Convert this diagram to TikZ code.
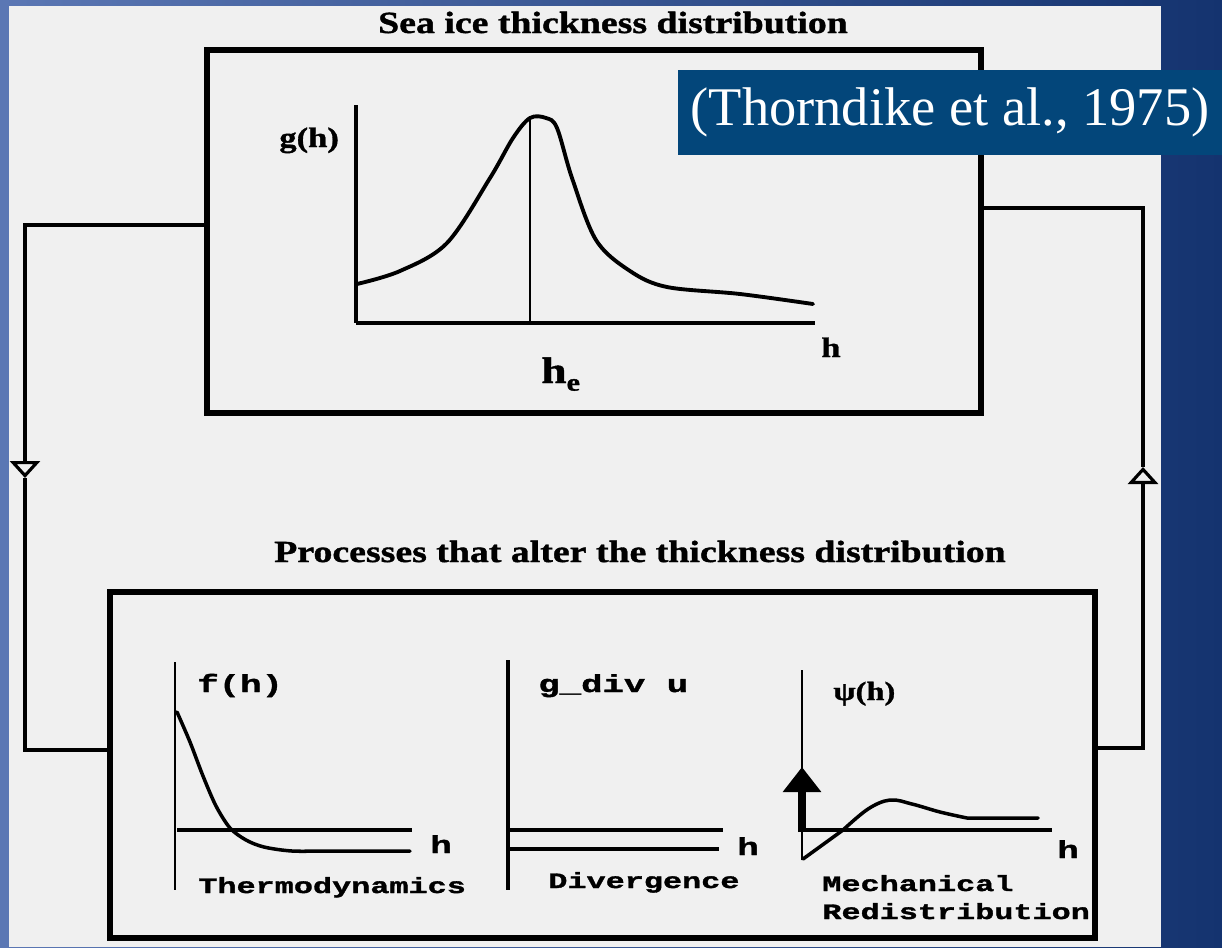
\documentclass[tikz,border=0pt]{standalone}
\usepackage{fontspec}
\setmainfont{Liberation Serif}
\newfontfamily\headfont[FakeStretch=1.23, FakeBold=1.2]{Liberation Serif}
\newfontfamily\typefont[FakeStretch=1.45, FakeBold=1.5]{Liberation Mono}
\usetikzlibrary{arrows.meta}
\definecolor{slideblue}{HTML}{03467A}
\definecolor{bgleft}{HTML}{5B77B4}
\definecolor{bgright}{HTML}{14336F}
\definecolor{paper}{HTML}{F0F0F0}
\tikzset{
  framebox/.style ={draw=black, line width=3pt, inner sep=0pt, outer sep=0pt},
  feed/.style     ={draw=black, line width=2.5pt},
  opentip/.style  ={-{Triangle[open, width=0.6cm, length=0.34cm, line width=1.8pt]}},
  heading/.style  ={font=\headfont\bfseries\fontsize{17.5}{20}\selectfont, anchor=base, inner sep=0pt},
  axlbl/.style    ={font=\headfont\bfseries\fontsize{16}{18}\selectfont, anchor=base west, inner sep=0pt},
  tlbl/.style     ={font=\typefont\bfseries\fontsize{12.5}{14}\selectfont, anchor=base west, inner sep=0pt},
  tlblbig/.style  ={font=\typefont\bfseries\fontsize{14}{16}\selectfont, anchor=base west, inner sep=0pt},
  cite/.style     ={fill=slideblue, text=white, inner sep=0pt, minimum width=10.88cm,
                    minimum height=1.7cm, font=\fontsize{31}{34}\selectfont},
  curve/.style    ={line width=2.2pt, line join=round, line cap=round},
}

\begin{document}
\begin{tikzpicture}[x=0.02cm, y=-0.02cm]
  \useasboundingbox (0,0) rectangle (1222,947);
  % slide background and scanned page
  \shade[left color=bgleft, right color=bgright] (0,0) rectangle (1222,947);
  \fill[paper] (9,6) rectangle (1161,947);

  % the two frames
  \node[framebox, minimum width=15.48cm, minimum height=7.26cm] (dist) at (594,231.5) {};
  \node[framebox, minimum width=19.7cm, minimum height=6.92cm] (proc) at (602.5,765) {};
  \node[heading] (disttitle) at (613,33) {Sea ice thickness distribution};
  \node[heading] (proctitle) at (640,562) {Processes that alter the thickness distribution};

  % feedback loop
  \coordinate (ltop) at (25,225);
  \coordinate (lmark) at (25,478);
  \coordinate (lbot) at (25,750);
  \coordinate (rbot) at (1143,748);
  \coordinate (rmark) at (1143,467);
  \coordinate (rtop) at (1143,208);
  \draw[feed, opentip] (dist.west |- ltop) -- (ltop) -- (lmark);
  \draw[feed] (lmark) -- (lbot) -- (lbot -| proc.west);
  \draw[feed, opentip] (proc.east |- rbot) -- (rbot) -- (rmark);
  \draw[feed] (rmark) -- (rtop) -- (rtop -| dist.east);

  % g(h)
  \draw[line width=2.4pt] (356,105) -- (356,323);
  \draw[line width=2.6pt] (356,323) -- (815,323);
  \draw[line width=1.3pt] (530,119) -- (530,323);
  \draw[curve] plot[smooth, tension=0.55] coordinates {(357,284) (400,271) (447,243) (490,178)
    (513,138) (530,118) (546,118) (557,128) (572,178) (596,240) (630,271) (667,287) (740,294) (813,304)};
  \node[axlbl] (glbl) at (279,147) {g(h)};
  \node[axlbl] (hlbl) at (821,357) {h};
  \node[axlbl, font=\headfont\bfseries\fontsize{21}{24}\selectfont] (helbl) at (541,383)
    {h\raisebox{-0.45ex}{\fontsize{14}{16}\selectfont e}};

  % thermodynamics
  \draw[line width=1.4pt] (175,662) -- (175,890);
  \draw[line width=2.4pt] (177,830) -- (412,830);
  \draw[curve, line width=2pt] plot[smooth, tension=0.5] coordinates {(177,712) (190,742) (203,776)
    (216,806) (230,828) (246,840) (264,847) (292,851) (330,851) (410,851)};
  \node[tlblbig] (flbl) at (197,692) {f(h)};
  \node[tlblbig] (fh) at (430,853) {h};
  \node[tlbl] (thermo) at (198,893) {Thermodynamics};

  % divergence
  \draw[line width=2.6pt] (508,660) -- (508,890);
  \draw[line width=2.2pt] (510,830) -- (723,830);
  \draw[line width=2pt] (510,849) -- (719,849);
  \node[tlblbig] (dlbl) at (538,692) {g\_div u};
  \node[tlblbig] (dh) at (737,855) {h};
  \node[tlbl] (diverg) at (548,888) {Divergence};

  % mechanical redistribution
  \draw[line width=1.4pt] (802,670) -- (802,860);
  \draw[line width=2.4pt] (802,830) -- (1052,830);
  \draw[line width=4.5pt, -{Triangle[width=0.74cm, length=0.5cm]}] (802,832) -- (802,767);
  \draw[curve, line width=2pt] (803,859) -- (843,830)
    plot[smooth, tension=0.6] coordinates {(843,830) (868,809) (890,800) (912,804) (940,812) (967,818)}
    -- (1038,818);
  \node[axlbl, font=\headfont\bfseries\fontsize{15}{18}\selectfont] (psilbl) at (833,700) {ψ(h)};
  \node[tlblbig] (mh) at (1057,858) {h};
  \node[tlbl] (mech) at (822,891) {Mechanical};
  \node[tlbl] (redis) at (822,919) {Redistribution};

  % reference tag
  \node[cite] (ref) at (950,112.5) {(Thorndike et al., 1975)};
\end{tikzpicture}
\end{document}
